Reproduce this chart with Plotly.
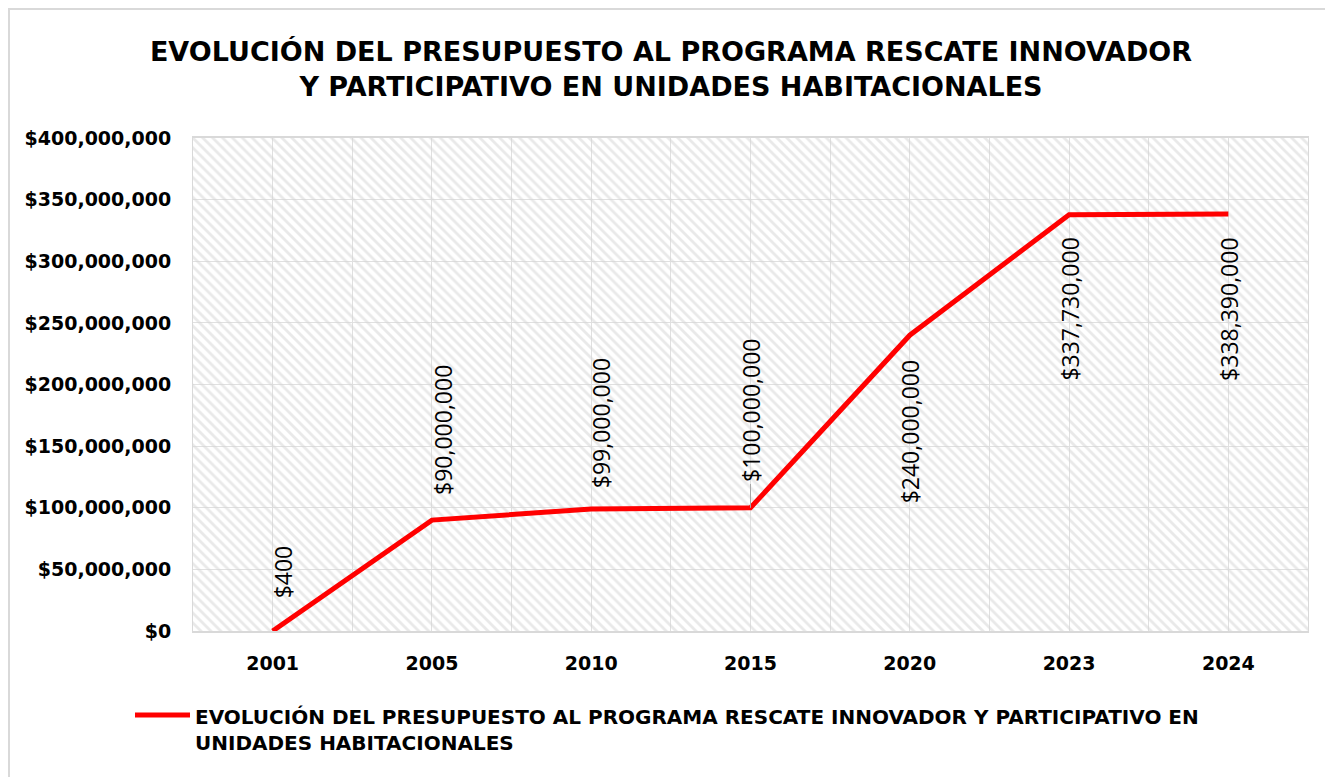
import plotly.graph_objects as go

years = ["2001", "2005", "2010", "2015", "2020", "2023", "2024"]
budget = [400, 90000000, 99000000, 100000000, 240000000, 337730000, 338390000]
series_name = "EVOLUCIÓN DEL PRESUPUESTO AL PROGRAMA RESCATE INNOVADOR Y PARTICIPATIVO EN<br>UNIDADES HABITACIONALES"
title_text = "EVOLUCIÓN DEL PRESUPUESTO AL PROGRAMA RESCATE INNOVADOR<br>Y PARTICIPATIVO EN UNIDADES HABITACIONALES"

# where the (manually moved) data labels start, in axis units, and their sideways nudge (px)
label_base = [25e6, 108.7e6, 114.4e6, 119.3e6, 102.2e6, 201.2e6, 201.2e6]
label_nudge = [10, 11, 10, 1, 0, 0, 0]

W, H = 1325, 769
L, R, T, B = 185, 1300, 130, 623
PW, PH = R - L, B - T

def px(x):
    return (x - L) / PW

def py(y):
    return (B - y) / PH

AXFONT = "DejaVu Sans"
xs = list(range(len(years)))

fig = go.Figure()

# hatched plot-area background (unit axes underneath)
fig.add_trace(go.Bar(
    x=[0.5], y=[1], width=[1], xaxis="x", yaxis="y",
    marker=dict(color="rgba(0,0,0,0)", line=dict(width=0),
                pattern=dict(shape="\\", fgcolor="#d3d3d3", bgcolor="rgba(0,0,0,0)",
                             size=7, solidity=0.4)),
    showlegend=False, hoverinfo="skip"))

fig.add_trace(go.Scatter(
    x=xs, y=budget, mode="lines", name=series_name, xaxis="x2", yaxis="y2",
    line=dict(color="#ff0000", width=5), showlegend=False))

for i, (v, b, n) in enumerate(zip(budget, label_base, label_nudge)):
    fig.add_annotation(x=i, y=b, xref="x2", yref="y2", text=f"${v:,.0f}",
                       textangle=-90, showarrow=False, yanchor="bottom",
                       xanchor="center", xshift=n,
                       font=dict(family="Open Sans", size=23, color="#000000"))

# leader line for the 2015 label
fig.add_shape(type="line", xref="x2", yref="y2", x0=3, x1=3, y0=budget[3], y1=label_base[3],
              line=dict(color="#a6a6a6", width=1))

# manual legend (line sample + wrapped text)
fig.add_shape(type="line", xref="paper", yref="paper",
              x0=px(127), x1=px(182), y0=py(707), y1=py(707),
              line=dict(color="#ff0000", width=5))
fig.add_annotation(xref="paper", yref="paper", x=px(185), y=py(722), text=series_name,
                   showarrow=False, xanchor="left", yanchor="middle", align="left",
                   font=dict(family=AXFONT, size=20, color="#000000", weight="bold"))

# outer chart border
fig.add_shape(type="rect", xref="paper", yref="paper",
              x0=px(1), x1=px(W + 10), y0=py(H + 10), y1=py(1),
              line=dict(color="#d9d9d9", width=2), fillcolor="rgba(0,0,0,0)", layer="below")

fig.update_layout(
    width=W, height=H,
    margin=dict(l=L, r=W - R, t=T, b=H - B),
    paper_bgcolor="white", plot_bgcolor="white",
    showlegend=False,
    title=dict(text=title_text, x=663 / W, xanchor="center", y=1 - 53 / H, yanchor="middle",
               font=dict(family=AXFONT, size=27, color="#000000", weight="bold")),
    xaxis=dict(range=[0, 1], visible=False, fixedrange=True),
    yaxis=dict(range=[0, 1], visible=False, fixedrange=True),
    xaxis2=dict(overlaying="x", anchor="y2", side="bottom",
                range=[-0.5, 6.5], tickmode="array", tickvals=xs, ticktext=years,
                showgrid=True, gridcolor="#e0e0e0", gridwidth=1,
                minor=dict(tickmode="array", tickvals=[i + 0.5 for i in range(-1, 7)],
                           showgrid=True, gridcolor="#e0e0e0", gridwidth=1, ticklen=0),
                showline=True, linecolor="#d9d9d9", linewidth=2, mirror=True,
                ticks="", ticklabelstandoff=14, zeroline=False,
                tickfont=dict(family=AXFONT, size=19, color="#000000", weight="bold")),
    yaxis2=dict(overlaying="y", anchor="x2", side="left",
                range=[0, 400e6], dtick=50e6, tickformat="$,.0f",
                showgrid=True, gridcolor="#e0e0e0", gridwidth=1,
                showline=True, linecolor="#d9d9d9", linewidth=1, mirror=True,
                ticks="", ticklabelstandoff=17, zeroline=False,
                tickfont=dict(family=AXFONT, size=19, color="#000000", weight="bold")),
    bargap=0,
)

fig.write_html("out.html")
